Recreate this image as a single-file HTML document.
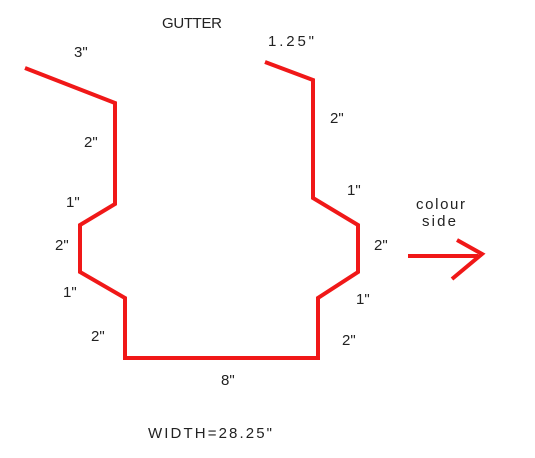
<!DOCTYPE html>
<html><head><meta charset="utf-8"><style>
body{margin:0;background:#fff;width:535px;height:453px;overflow:hidden}
svg text{font-family:"Liberation Sans",sans-serif;font-size:15px;fill:#222}
</style></head><body>
<svg width="535" height="453">
<polyline points="25,68 115,103 115,204 80,225 80,272 125,298 125,358 318,358 318,298 358,272 358,225 313,198 313,80 265,62" fill="none" stroke="#f01818" stroke-width="4" stroke-linejoin="miter"/>
<g stroke="#f01818" stroke-width="4" fill="none">
<line x1="408" y1="256" x2="478" y2="256"/>
<polyline points="457,240 482,254 452,279"/>
</g>
<text x="162" y="28" textLength="60">GUTTER</text>
<text x="74" y="57">3"</text>
<text x="268" y="46" textLength="46">1.25"</text>
<text x="84" y="147">2"</text>
<text x="330" y="123">2"</text>
<text x="66" y="207">1"</text>
<text x="347" y="195">1"</text>
<text x="55" y="250">2"</text>
<text x="374" y="250">2"</text>
<text x="63" y="297">1"</text>
<text x="356" y="304">1"</text>
<text x="91" y="341">2"</text>
<text x="342" y="345">2"</text>
<text x="221" y="385">8"</text>
<text x="148" y="438" textLength="124">WIDTH=28.25"</text>
<text x="416" y="209" textLength="49">colour</text>
<text x="422" y="226" textLength="34">side</text>
</svg>
</body></html>
